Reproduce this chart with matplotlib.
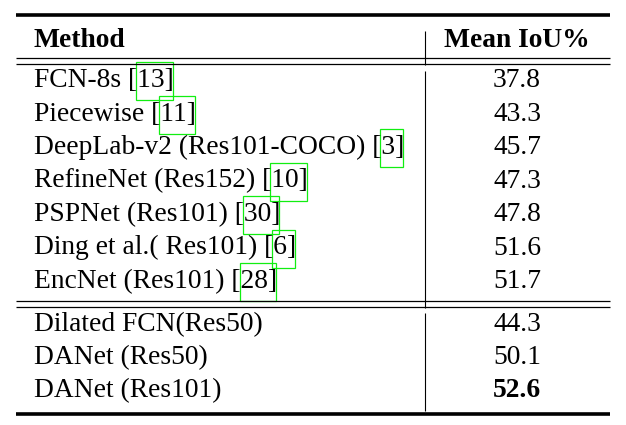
import matplotlib.pyplot as plt

# table contents
methods = ["FCN-8s", "Piecewise", "DeepLab-v2 (Res101-COCO)", "RefineNet (Res152)",
           "PSPNet (Res101)", "Ding et al.( Res101)", "EncNet (Res101)",
           "Dilated FCN(Res50)", "DANet (Res50)", "DANet (Res101)"]
refs = ["13", "11", "3", "10", "30", "6", "28", None, None, None]
miou = [37.8, 43.3, 45.7, 47.3, 47.8, 51.6, 51.7, 44.3, 50.1, 52.6]
best = 52.6

# layout in pixels
baselines = [87, 120.5, 154, 187.5, 221, 254.5, 288, 331, 364, 397]
x_left, x_right = 16, 610
x_method, x_val, x_vline = 34, 517, 425
fs = 19.8
font = ["Liberation Serif", "DejaVu Serif"]

fig = plt.figure(figsize=(6.26, 4.25), dpi=100)
ax = fig.add_axes([0, 0, 1, 1])
ax.set_xlim(0, 626)
ax.set_ylim(425, 0)
ax.axis("off")

# rules
ax.hlines([14.5, 413.5], x_left, x_right, color="black", lw=2.6)
ax.hlines([57.5, 64, 300.5, 306.5], x_left, x_right, color="black", lw=0.9)
ax.vlines([x_vline] * 3, [31, 71, 313], [65, 308, 411], color="black", lw=0.8)

# header
ax.text(x_method, 47, "Method", family=font, fontsize=fs, fontweight="bold", va="baseline")
ax.text(x_val, 47, "Mean IoU%", family=font, fontsize=fs, fontweight="bold",
        va="baseline", ha="center")

fig.canvas.draw()
renderer = fig.canvas.get_renderer()
inv = ax.transData.inverted()


def right_edge(s, y):
    t = ax.text(x_method, y, s, family=font, fontsize=fs, va="baseline")
    bb = t.get_window_extent(renderer)
    t.remove()
    return inv.transform((bb.x1, bb.y0))[0]


for m, r, v, y in zip(methods, refs, miou, baselines):
    if r is None:
        label = m
    else:
        label = m + " [" + r + "]"
    ax.text(x_method, y, label, family=font, fontsize=fs, va="baseline")
    ax.text(x_val, y, "%.1f" % v, family=font, fontsize=fs, va="baseline", ha="center",
            fontweight="bold" if v == best else "normal")
    if r is not None:
        x0 = right_edge(m + " [", y) - 1
        x1 = right_edge(label, y) - 1
        ax.add_patch(plt.Rectangle((x0, y - 25), x1 - x0, 38, fill=False,
                                   edgecolor="#11ee11", lw=0.9))

fig.savefig("out.png", dpi=100)
